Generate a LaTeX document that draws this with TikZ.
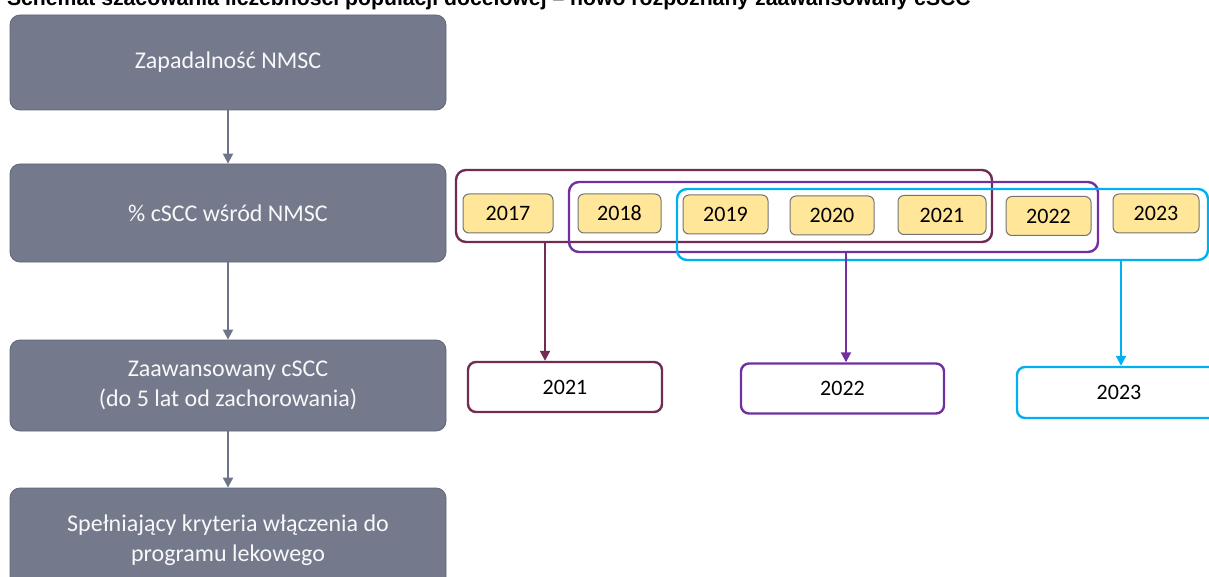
\documentclass[tikz,border=0pt]{standalone}
\usepackage{fontspec}
\setmainfont{Carlito}
\newfontfamily\titlefont{Liberation Sans}
\usetikzlibrary{arrows.meta}
\definecolor{slate}{HTML}{747A8C}
\definecolor{slateline}{HTML}{60657A}
\definecolor{slatearrow}{HTML}{6E7488}
\definecolor{maroon}{HTML}{722B53}
\definecolor{violet}{HTML}{7030A0}
\definecolor{skyblue}{HTML}{00B0F0}
\definecolor{sand}{HTML}{FFE699}
\tikzset{
  stage/.style = {draw=slateline, fill=slate, rounded corners=5pt, text=white!95!slate,
    minimum width=218pt, align=center, font=\fontsize{12}{15}\selectfont},
  yearbox/.style = {draw=black!55, fill=sand, rounded corners=3pt, line width=0.5pt,
    minimum height=19.5pt, font=\fontsize{11}{13}\selectfont},
  frame/.style = {draw=#1, line width=1.2pt, rounded corners=5pt},
  result/.style = {draw=#1, fill=white, line width=1.2pt, rounded corners=4pt,
    minimum height=25pt, font=\fontsize{11}{13}\selectfont},
  flow/.style = {draw=#1, line width=1pt, -{Triangle[length=5pt,width=5pt]}}
}
\begin{document}
\begin{tikzpicture}[x=0.5pt, y=-0.5pt]
\useasboundingbox (0,0) rectangle (1209,577);
\node [anchor=base west, font=\titlefont\bfseries\fontsize{10.6}{12}\selectfont] (title) at (0,6)
  {Schemat szacowania liczebności populacji docelowej – nowo rozpoznany zaawansowany cSCC};
% main path
\node [stage, minimum height=47.5pt] (g1) at (228,62.5) {Zapadalność NMSC};
\node [stage, minimum height=49pt] (g2) at (228,213) {\% cSCC wśród NMSC};
\node [stage, minimum height=45.5pt] (g3) at (228,385.5) {Zaawansowany cSCC\\(do 5 lat od zachorowania)};
\node [stage, minimum height=52pt] (g4) at (228,540) {Spełniający kryteria włączenia do\\programu lekowego};
\draw [flow=slatearrow] (g1) -- (g2);
\draw [flow=slatearrow] (g2) -- (g3);
\draw [flow=slatearrow] (g3) -- (g4);
% year windows
\node [frame=maroon, minimum width=268pt, minimum height=36pt] (fr21) at (724,206) {};
\node [frame=violet, minimum width=264.5pt, minimum height=35pt] (fr22) at (833.5,217) {};
\node [frame=skyblue, minimum width=265.5pt, minimum height=35.5pt] (fr23) at (942.5,224.5) {};
\foreach \yr/\cx/\cy/\w in {2017/508/213.5/45, 2018/619.5/213.5/41.5, 2019/725.5/214.5/42.5,
    2020/832/215.5/42, 2021/942/215/44, 2022/1048.5/216/42.5, 2023/1156/213.5/43}
  \node [yearbox, minimum width=\w pt] (y\yr) at (\cx,\cy) {\yr};
% results
\node [result=maroon, minimum width=97pt] (r21) at (565,387) {2021};
\node [result=violet, minimum width=101.5pt] (r22) at (842.5,388.5) {2022};
\node [result=skyblue, minimum width=102pt, minimum height=25.5pt] (r23) at (1119,392.5) {2023};
\coordinate (m21) at (545,0);
\coordinate (m22) at (846,0);
\coordinate (m23) at (1121,0);
\draw [flow=maroon] (fr21.south -| m21) -- (r21.north -| m21);
\draw [flow=violet] (fr22.south -| m22) -- (r22.north -| m22);
\draw [flow=skyblue] (fr23.south -| m23) -- (r23.north -| m23);
\end{tikzpicture}
\end{document}
